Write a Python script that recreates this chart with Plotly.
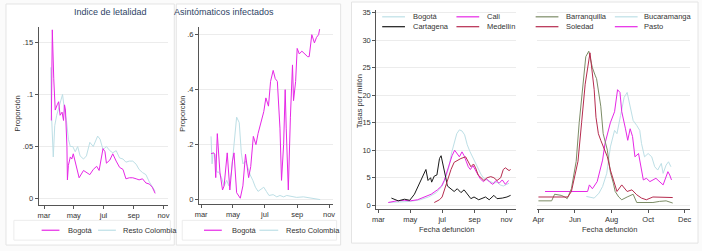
import plotly.graph_objects as go

# ---------------- data ----------------
# Panel 1: Indice de letalidad
let_bog_dates = ["2020-03-16","2020-03-18","2020-03-21","2020-03-24","2020-03-28","2020-03-31","2020-04-03","2020-04-07","2020-04-10","2020-04-12","2020-04-14","2020-04-17","2020-04-18","2020-04-20","2020-04-24","2020-04-27","2020-04-30","2020-05-04","2020-05-07","2020-05-12","2020-05-21","2020-05-27","2020-06-03","2020-06-10","2020-06-17","2020-06-22","2020-06-27","2020-06-30","2020-07-04","2020-07-07","2020-07-14","2020-07-20","2020-07-27","2020-08-03","2020-08-10","2020-08-16","2020-08-23","2020-08-30","2020-09-06","2020-09-12","2020-09-19","2020-09-26","2020-10-03","2020-10-09","2020-10-15"]
let_bog_vals = [0.075,0.162,0.115,0.085,0.09,0.093,0.08,0.083,0.075,0.09,0.085,0.05,0.018,0.032,0.04,0.038,0.043,0.035,0.03,0.02,0.027,0.025,0.023,0.028,0.031,0.027,0.043,0.048,0.045,0.034,0.037,0.043,0.036,0.03,0.028,0.019,0.02,0.02,0.019,0.018,0.019,0.015,0.014,0.011,0.005]
let_rc_dates = ["2020-03-15","2020-03-16","2020-03-20","2020-03-23","2020-03-27","2020-03-31","2020-04-04","2020-04-08","2020-04-12","2020-04-16","2020-04-20","2020-04-24","2020-04-29","2020-05-04","2020-05-09","2020-05-14","2020-05-21","2020-05-27","2020-06-03","2020-06-10","2020-06-19","2020-06-24","2020-06-30","2020-07-07","2020-07-14","2020-07-20","2020-07-27","2020-08-03","2020-08-10","2020-08-16","2020-08-23","2020-08-30","2020-09-06","2020-09-12","2020-09-19","2020-09-26","2020-10-03","2020-10-09","2020-10-15"]
let_rc_vals = [0.126,0.085,0.04,0.07,0.08,0.087,0.093,0.1,0.085,0.075,0.057,0.05,0.05,0.045,0.05,0.041,0.038,0.041,0.054,0.05,0.06,0.057,0.047,0.05,0.046,0.044,0.046,0.039,0.038,0.035,0.036,0.036,0.033,0.028,0.025,0.023,0.016,0.011,0.007]

# Panel 2: Asintomaticos infectados
asi_bog_dates = ["2020-03-20","2020-03-25","2020-03-27","2020-03-29","2020-04-01","2020-04-06","2020-04-11","2020-04-14","2020-04-20","2020-04-25","2020-04-30","2020-05-03","2020-05-08","2020-05-15","2020-05-20","2020-05-25","2020-05-31","2020-06-04","2020-06-09","2020-06-14","2020-06-18","2020-06-24","2020-06-29","2020-07-03","2020-07-08","2020-07-12","2020-07-17","2020-07-21","2020-07-25","2020-07-30","2020-08-02","2020-08-06","2020-08-09","2020-08-11","2020-08-15","2020-08-19","2020-08-23","2020-08-25","2020-08-29","2020-09-01","2020-09-05","2020-09-10","2020-09-15","2020-09-21","2020-09-24","2020-09-29","2020-10-04","2020-10-08","2020-10-12","2020-10-14"]
asi_bog_vals = [0.167,0.17,0.165,0.08,0.24,0.1,0.035,0.05,0.17,0.035,0.14,0.17,0.025,0.005,0.05,0.165,0.08,0.12,0.23,0.2,0.24,0.29,0.32,0.37,0.34,0.43,0.47,0.44,0.43,0.26,0.07,0.2,0.4,0.26,0.035,0.3,0.49,0.36,0.43,0.55,0.53,0.54,0.53,0.52,0.52,0.6,0.57,0.59,0.6,0.62]
asi_rc_dates = ["2020-03-20","2020-03-22","2020-03-24","2020-03-27","2020-03-31","2020-04-04","2020-04-09","2020-04-14","2020-04-19","2020-04-23","2020-04-28","2020-05-03","2020-05-08","2020-05-13","2020-05-17","2020-05-20","2020-05-25","2020-05-29","2020-06-03","2020-06-08","2020-06-13","2020-06-18","2020-06-24","2020-06-29","2020-07-04","2020-07-09","2020-07-17","2020-07-24","2020-07-30","2020-08-06","2020-08-12","2020-08-22","2020-08-31","2020-09-13","2020-09-25","2020-10-08","2020-10-15"]
asi_rc_vals = [0.23,0.13,0.17,0.165,0.1,0.1,0.08,0.05,0.07,0.05,0.1,0.2,0.3,0.28,0.17,0.13,0.14,0.12,0.09,0.07,0.045,0.03,0.04,0.045,0.03,0.015,0.018,0.01,0.015,0.01,0.015,0.01,0.008,0.01,0.006,0.003,0.0]

# Panel 3: Tasas por millon (ciudades grandes)
bog_dates = ["2020-03-20","2020-04-10","2020-05-01","2020-05-20","2020-06-05","2020-06-20","2020-07-01","2020-07-08","2020-07-14","2020-07-19","2020-07-24","2020-07-29","2020-08-03","2020-08-08","2020-08-13","2020-08-18","2020-08-23","2020-08-28","2020-09-02","2020-09-08","2020-09-14","2020-09-20","2020-09-26","2020-10-02","2020-10-08","2020-10-14","2020-10-20","2020-10-26","2020-11-01","2020-11-06"]
bog_vals = [0.5,0.6,0.7,1.0,1.5,2.3,3.5,5.0,7.0,9.5,11.5,13.0,13.7,13.5,12.8,11.0,9.8,8.8,7.6,6.5,5.5,4.8,4.5,4.3,4.0,4.2,3.7,3.5,3.8,4.0]
cali_dates = ["2020-03-20","2020-04-05","2020-04-20","2020-05-01","2020-05-15","2020-05-28","2020-06-10","2020-06-22","2020-06-30","2020-07-05","2020-07-10","2020-07-15","2020-07-20","2020-07-25","2020-07-30","2020-08-03","2020-08-08","2020-08-12","2020-08-16","2020-08-20","2020-08-24","2020-08-29","2020-09-02","2020-09-07","2020-09-12","2020-09-18","2020-09-24","2020-09-30","2020-10-06","2020-10-12","2020-10-18","2020-10-24","2020-10-30","2020-11-05"]
cali_vals = [0.5,0.8,0.9,0.8,1.0,1.5,2.0,2.8,3.5,4.5,6.0,7.5,9.0,10.0,9.2,8.8,9.7,9.0,8.0,7.0,6.5,7.2,6.5,5.5,4.8,4.3,4.8,4.2,3.8,4.5,4.0,4.6,3.8,4.5]
ctg_dates = ["2020-03-26","2020-04-08","2020-04-20","2020-04-30","2020-05-09","2020-05-19","2020-05-25","2020-05-31","2020-06-04","2020-06-09","2020-06-11","2020-06-16","2020-06-21","2020-06-26","2020-06-29","2020-07-04","2020-07-08","2020-07-11","2020-07-18","2020-07-24","2020-07-30","2020-08-06","2020-08-12","2020-08-18","2020-08-25","2020-08-31","2020-09-09","2020-09-22","2020-09-29","2020-10-08","2020-10-14","2020-10-24","2020-11-02","2020-11-09"]
ctg_vals = [1.3,0.8,1.1,0.9,2.0,4.0,5.5,6.5,4.5,5.0,4.2,5.3,5.5,8.5,9.0,7.0,5.0,3.5,3.0,2.5,3.0,2.3,2.8,2.0,1.2,1.5,1.0,1.5,1.0,1.8,1.2,1.3,1.5,1.8]
med_dates = ["2020-06-16","2020-06-26","2020-07-01","2020-07-06","2020-07-12","2020-07-18","2020-07-24","2020-07-30","2020-08-06","2020-08-15","2020-08-20","2020-08-25","2020-08-30","2020-09-03","2020-09-08","2020-09-13","2020-09-19","2020-09-25","2020-10-02","2020-10-08","2020-10-14","2020-10-21","2020-10-26","2020-10-30","2020-11-06","2020-11-09"]
med_vals = [0.5,1.0,1.5,3.0,5.0,6.5,7.8,8.2,8.5,8.8,8.0,7.0,7.5,6.8,5.5,5.0,4.5,5.0,5.2,5.0,4.5,5.0,6.5,6.8,6.3,6.5]

# Panel 4: Tasas por millon (ciudades intermedias)
baq_dates = ["2020-04-01","2020-04-23","2020-04-28","2020-05-09","2020-05-15","2020-05-19","2020-05-26","2020-06-03","2020-06-08","2020-06-14","2020-06-19","2020-06-24","2020-06-30","2020-07-05","2020-07-07","2020-07-14","2020-07-18","2020-07-25","2020-07-30","2020-08-04","2020-08-07","2020-08-13","2020-08-18","2020-08-27","2020-09-06","2020-09-12","2020-10-09","2020-10-20","2020-10-31","2020-11-11"]
baq_vals = [0.8,0.8,2.0,1.8,1.5,1.2,3.0,8.0,15.0,22.0,27.0,28.0,25.0,23.5,23.0,18.0,13.0,10.0,6.0,4.0,2.5,1.5,1.0,1.5,2.0,0.5,0.5,0.7,0.8,0.4]
sol_dates = ["2020-04-01","2020-05-20","2020-05-26","2020-06-06","2020-06-12","2020-06-18","2020-06-26","2020-07-03","2020-07-06","2020-07-10","2020-07-14","2020-07-18","2020-07-25","2020-07-30","2020-08-06","2020-08-10","2020-08-18","2020-08-27","2020-09-04","2020-09-12","2020-09-20","2020-09-28","2020-10-09","2020-11-11"]
sol_vals = [1.5,1.5,2.5,8.0,15.0,22.0,27.7,21.0,16.0,13.0,11.8,10.6,8.8,6.4,4.0,2.5,3.7,2.5,2.8,1.9,1.3,1.0,1.5,1.4]
pas_dates = ["2020-04-12","2020-06-22","2020-06-25","2020-06-30","2020-07-08","2020-07-17","2020-07-21","2020-07-30","2020-08-06","2020-08-11","2020-08-15","2020-08-18","2020-08-24","2020-08-28","2020-09-01","2020-09-05","2020-09-09","2020-09-15","2020-09-23","2020-09-28","2020-10-04","2020-10-09","2020-10-14","2020-10-26","2020-11-03","2020-11-06","2020-11-09"]
pas_vals = [2.5,2.5,3.7,3.0,4.3,8.2,11.2,15.0,17.0,21.0,20.5,17.0,14.0,11.8,13.9,12.5,8.8,9.4,4.6,4.9,4.3,4.6,4.9,3.7,6.1,5.5,4.6]
buc_dates = ["2020-06-20","2020-07-03","2020-07-11","2020-07-17","2020-07-24","2020-07-30","2020-08-06","2020-08-10","2020-08-16","2020-08-22","2020-08-27","2020-09-01","2020-09-06","2020-09-12","2020-09-17","2020-09-20","2020-09-25","2020-10-01","2020-10-07","2020-10-12","2020-10-17","2020-10-23","2020-10-26","2020-10-31","2020-11-04","2020-11-08"]
buc_vals = [1.6,1.3,2.2,3.4,5.8,10.6,13.6,13.0,16.3,19.6,20.5,17.8,15.4,14.5,13.6,11.2,8.8,9.4,8.8,7.0,6.4,7.6,5.8,7.3,7.9,7.0]

# tick labels
tick_dates_es = ["2020-03-01","2020-05-01","2020-07-01","2020-09-01","2020-11-01"]
tick_text_es = ["mar","may","jul","sep","nov"]
tick_dates_en = ["2020-04-01","2020-06-01","2020-08-01","2020-10-01","2020-12-01"]
tick_text_en = ["Apr","Jun","Aug","Oct","Dec"]

# ---------------- styling ----------------
W, H = 702, 251
MAG = "#e627e6"
LBLUE = "#bddfe6"
BLACK = "#1a1a1a"
CRAN = "#b62b4e"
OLIVE = "#7c8c66"
FONT = "Liberation Sans, Arial, sans-serif"
AXC = "#555555"
GRID = "#ececec"
TXT = "#333333"

def px(x):
    return x / W

def py(y):
    return 1 - y / H

fig = go.Figure()

def line(x, y, color, xa, ya, width=1.0):
    fig.add_trace(go.Scatter(x=x, y=y, mode="lines", line=dict(color=color, width=width),
                             xaxis=xa, yaxis=ya, showlegend=False, hoverinfo="skip"))

line(let_rc_dates, let_rc_vals, LBLUE, "x", "y")
line(let_bog_dates, let_bog_vals, MAG, "x", "y")
line(asi_rc_dates, asi_rc_vals, LBLUE, "x2", "y2")
line(asi_bog_dates, asi_bog_vals, MAG, "x2", "y2")
line(bog_dates, bog_vals, LBLUE, "x3", "y3")
line(cali_dates, cali_vals, MAG, "x3", "y3")
line(ctg_dates, ctg_vals, BLACK, "x3", "y3")
line(med_dates, med_vals, CRAN, "x3", "y3")
line(buc_dates, buc_vals, LBLUE, "x4", "y4")
line(pas_dates, pas_vals, MAG, "x4", "y4")
line(baq_dates, baq_vals, OLIVE, "x4", "y4")
line(sol_dates, sol_vals, CRAN, "x4", "y4")

tickfont = dict(family=FONT, size=7.5, color=TXT)

def xax(dom, rng, tv, tt, anchor):
    return dict(domain=[px(dom[0]), px(dom[1])], range=rng, type="date", tickvals=tv, ticktext=tt,
                showline=True, linecolor=AXC, linewidth=1, ticks="outside", ticklen=3, tickcolor=AXC,
                showgrid=False, zeroline=False, tickfont=tickfont, anchor=anchor, fixedrange=True)

def yax(dom, rng, tv, tt, anchor, show=True):
    return dict(domain=[py(dom[1]), py(dom[0])], range=rng, tickvals=tv, ticktext=tt,
                showline=show, linecolor=AXC, linewidth=1, ticks="outside" if show else "", ticklen=3,
                tickcolor=AXC, showticklabels=show, showgrid=True, gridcolor=GRID, gridwidth=1,
                zeroline=False, tickfont=tickfont, anchor=anchor, fixedrange=True)

fig.update_layout(
    width=W, height=H, margin=dict(l=0, r=0, t=0, b=0),
    paper_bgcolor="#fbfbfb", plot_bgcolor="rgba(0,0,0,0)",
    font=dict(family=FONT, size=7.5, color=TXT),
    xaxis=xax((35, 166), ["2020-02-19", "2020-11-11"], tick_dates_es, tick_text_es, "y"),
    yaxis=yax((25, 205), [-0.0057, 0.165], [0, 0.05, 0.1, 0.15], ["0", ".05", ".1", ".15"], "x"),
    xaxis2=xax((197, 332), ["2020-02-26", "2020-11-08"], tick_dates_es, tick_text_es, "y2"),
    yaxis2=yax((25, 204), [-0.0144, 0.629], [0, 0.2, 0.4, 0.6], ["0", ".2", ".4", ".6"], "x2"),
    xaxis3=xax((376, 517), ["2020-02-26", "2020-11-19"], tick_dates_es, tick_text_es, "y3"),
    yaxis3=yax((8, 210), [-0.77, 35.5], [0, 5, 10, 15, 20, 25, 30, 35], ["0", "5", "10", "15", "20", "25", "30", "35"], "x3"),
    xaxis4=xax((538, 693), ["2020-03-29", "2020-12-10"], tick_dates_en, tick_text_en, "y4"),
    yaxis4=yax((8, 210), [-0.77, 35.5], [0, 5, 10, 15, 20, 25, 30, 35], None, "x4", show=False),
)

shapes = []
# cards
for (x0, y0, x1, y1) in [(2, 2, 172, 246), (174, 2, 340, 246), (351, 0, 701, 244)]:
    shapes.append(dict(type="rect", xref="paper", yref="paper", x0=px(x0), x1=px(x1), y0=py(y1), y1=py(y0),
                       line=dict(color="#e4e4e4", width=1), fillcolor="white", layer="below"))
# legend boxes panels 1, 2
for (x0, x1) in [(10, 168), (180, 336)]:
    shapes.append(dict(type="rect", xref="paper", yref="paper", x0=px(x0), x1=px(x1), y0=py(241), y1=py(221),
                       line=dict(color="#ececec", width=1), fillcolor="white", layer="below"))

annotations = []

def leg(x0, x1, y, color, label, tx):
    shapes.append(dict(type="line", xref="paper", yref="paper", x0=px(x0), x1=px(x1), y0=py(y), y1=py(y),
                       line=dict(color=color, width=1.2)))
    annotations.append(dict(xref="paper", yref="paper", x=px(tx), y=py(y), text=label, showarrow=False,
                            xanchor="left", yanchor="middle", font=dict(family=FONT, size=7.5, color=TXT)))

leg(38, 56, 231, MAG, "Bogotá", 63)
leg(95, 113, 231, LBLUE, "Resto Colombia", 118)
leg(202, 220, 231, MAG, "Bogotá", 228)
leg(258, 277, 231, LBLUE, "Resto Colombia", 283)

leg(382, 405, 15, LBLUE, "Bogotá", 411)
leg(457, 480, 15, MAG, "Cali", 486)
leg(382, 405, 25, BLACK, "Cartagena", 411)
leg(457, 480, 25, CRAN, "Medellín", 486)

leg(537, 560, 15, OLIVE, "Barranquilla", 566)
leg(617, 640, 15, LBLUE, "Bucaramanga", 644)
leg(537, 560, 25, CRAN, "Soledad", 566)
leg(617, 640, 25, MAG, "Pasto", 644)

def txt(x, y, s, size=7.5, color=TXT, angle=0):
    annotations.append(dict(xref="paper", yref="paper", x=px(x), y=py(y), text=s, showarrow=False,
                            xanchor="center", yanchor="middle", textangle=angle,
                            font=dict(family=FONT, size=size, color=color)))

txt(108, 10, "Indice de letalidad", size=9, color="#2e4466")
txt(222, 10, "Asintómaticos infectados", size=9, color="#2e4466")
txt(14, 113, "Proporción", angle=-90)
txt(180, 113, "Proporción", angle=-90)
txt(359, 100, "Tasas por millón", angle=-90)
txt(447, 230, "Fecha defunción")
txt(612, 230, "Fecha defunción")

fig.update_layout(shapes=shapes, annotations=annotations)
fig.write_html("out.html", config={"displayModeBar": False, "staticPlot": True},
               post_script="document.body.style.margin='0';document.body.style.padding='0';document.body.style.overflow='hidden';")
